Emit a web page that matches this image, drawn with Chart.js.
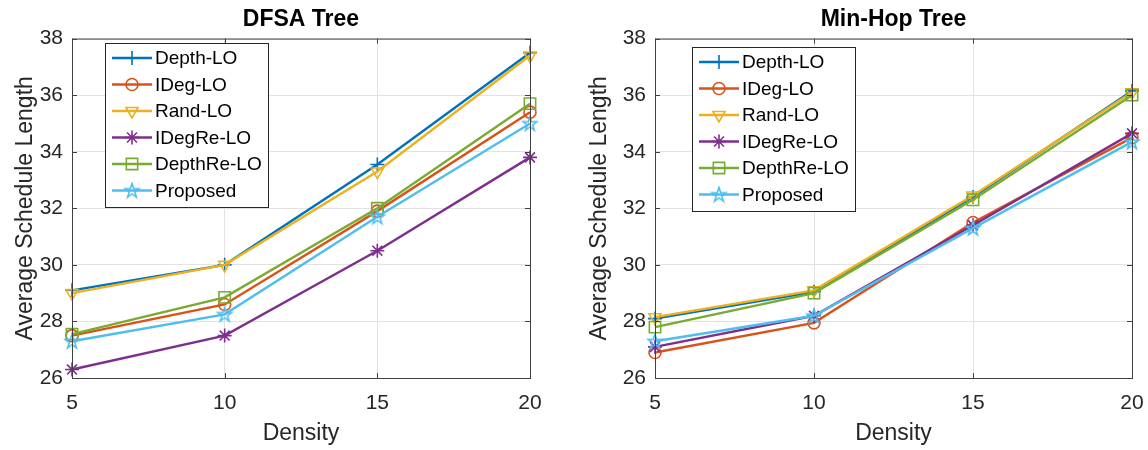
<!DOCTYPE html>
<html>
<head>
<meta charset="utf-8">
<script src="https://cdn.jsdelivr.net/npm/chart.js@4.4.0/dist/chart.umd.min.js"></script>
<style>
  body { margin: 0; background: #fff; }
  #wrap { display: flex; width: 1148px; height: 450px; }
  canvas { display: block; }
</style>
</head>
<body>
<div id="wrap">
  <canvas id="dfsaChart" width="574" height="450"></canvas>
  <canvas id="hopChart" width="574" height="450"></canvas>
</div>
<script>
// x categories
const density = ["5", "10", "15", "20"];
const yTicks = [26, 28, 30, 32, 34, 36, 38];
const seriesNames = ["Depth-LO", "IDeg-LO", "Rand-LO", "IDegRe-LO", "DepthRe-LO", "Proposed"];

// DFSA Tree
const dfsaDepth = [29.1, 30.0, 33.55, 37.5];
const dfsaIDeg = [27.5, 28.6, 31.9, 35.4];
const dfsaRand = [29.0, 30.0, 33.3, 37.4];
const dfsaIDegRe = [26.3, 27.5, 30.5, 33.8];
const dfsaDepthRe = [27.55, 28.85, 32.0, 35.7];
const dfsaProposed = [27.3, 28.25, 31.7, 35.0];

// Min-Hop Tree
const hopDepth = [28.1, 29.05, 32.4, 36.15];
const hopIDeg = [26.9, 27.95, 31.5, 34.5];
const hopRand = [28.15, 29.1, 32.45, 36.1];
const hopIDegRe = [27.1, 28.2, 31.4, 34.65];
const hopDepthRe = [27.8, 29.0, 32.3, 36.0];
const hopProposed = [27.3, 28.2, 31.3, 34.35];

const colors = ["#0072BD", "#D95319", "#EDB120", "#7E2F8E", "#77AC30", "#4DBEEE"];

Chart.defaults.font.family = "'Liberation Sans', Arial, sans-serif";
Chart.defaults.color = "#262626";

// matlab-like pentagram marker, no built-in one in chart.js
function makePentagram(color) {
  const c = document.createElement("canvas");
  c.width = 18;
  c.height = 18;
  const g = c.getContext("2d");
  const R = 7.5, r = R * 0.382;
  g.beginPath();
  for (let i = 0; i < 10; i++) {
    const rad = i % 2 === 0 ? R : r;
    const a = -Math.PI / 2 + (i * Math.PI) / 5;
    const px = 9 + rad * Math.cos(a);
    const py = 9.5 + rad * Math.sin(a);
    if (i === 0) g.moveTo(px, py);
    else g.lineTo(px, py);
  }
  g.closePath();
  g.strokeStyle = color;
  g.lineWidth = 1.6;
  g.stroke();
  return c;
}

const markers = [
  { style: "cross", radius: 7, rotation: 0 },
  { style: "circle", radius: 6, rotation: 0 },
  { style: "triangle", radius: 7, rotation: 180 },
  { style: "star", radius: 7, rotation: 0 },
  { style: "rect", radius: 8, rotation: 0 },
  { style: makePentagram(colors[5]), radius: 7, rotation: 0 },
];

const boxPlugin = {
  id: "boxPlugin",
  afterDatasetsDraw(chart, args, opts) {
    const ctx = chart.ctx;
    const area = chart.chartArea;
    const xs = chart.scales.x;
    const ys = chart.scales.y;
    ctx.save();
    // axes frame
    ctx.strokeStyle = "#404040";
    ctx.lineWidth = 1;
    ctx.strokeRect(area.left + 0.5, area.top + 0.5, area.right - area.left, area.bottom - area.top);
    // inward tick marks
    ctx.beginPath();
    density.forEach((d, i) => {
      const px = Math.round(xs.getPixelForTick(i)) + 0.5;
      ctx.moveTo(px, area.bottom);
      ctx.lineTo(px, area.bottom - 5);
      ctx.moveTo(px, area.top);
      ctx.lineTo(px, area.top + 5);
    });
    yTicks.forEach((v) => {
      const py = Math.round(ys.getPixelForValue(v)) + 0.5;
      ctx.moveTo(area.left, py);
      ctx.lineTo(area.left + 5, py);
      ctx.moveTo(area.right, py);
      ctx.lineTo(area.right - 5, py);
    });
    ctx.stroke();

    // legend box inside the plot
    const x0 = Math.round(area.left + opts.dx);
    const y0 = Math.round(area.top + opts.dy);
    const w = 163, h = 164, rowH = 26.5;
    ctx.fillStyle = "#fff";
    ctx.fillRect(x0, y0, w, h);
    ctx.strokeStyle = "#262626";
    ctx.strokeRect(x0 + 0.5, y0 + 0.5, w, h);
    chart.data.datasets.forEach((ds, i) => {
      const y = y0 + 15 + i * rowH;
      ctx.strokeStyle = ds.borderColor;
      ctx.lineWidth = 2.4;
      ctx.beginPath();
      ctx.moveTo(x0 + 7, y);
      ctx.lineTo(x0 + 47, y);
      ctx.stroke();
      ctx.fillStyle = "rgba(0,0,0,0)";
      ctx.lineWidth = 1.6;
      Chart.helpers.drawPoint(ctx, {
        pointStyle: ds.pointStyle,
        radius: ds.pointRadius,
        rotation: ds.pointRotation,
        borderWidth: 1.6,
      }, x0 + 27, y);
      ctx.fillStyle = "#000";
      ctx.font = "19px 'Liberation Sans', Arial, sans-serif";
      ctx.textBaseline = "middle";
      ctx.textAlign = "left";
      ctx.fillText(ds.label, x0 + 50, y + 1);
    });
    ctx.restore();
  },
};

function makeChart(canvasId, title, values, yWidth, padRight, legendDx, legendDy) {
  const ctx = document.getElementById(canvasId);
  return new Chart(ctx, {
    type: "line",
    data: {
      labels: density,
      datasets: values.map((vals, i) => ({
        label: seriesNames[i],
        data: vals,
        borderColor: colors[i],
        backgroundColor: "rgba(0,0,0,0)",
        borderWidth: 2.4,
        pointStyle: markers[i].style,
        pointRadius: markers[i].radius,
        pointRotation: markers[i].rotation,
        pointBorderWidth: 1.6,
        pointBackgroundColor: "rgba(0,0,0,0)",
        pointBorderColor: colors[i],
        tension: 0,
        order: 6 - i,
      })),
    },
    options: {
      responsive: false,
      animation: false,
      devicePixelRatio: 1,
      layout: { padding: { left: 0, right: padRight, top: 0, bottom: 0 } },
      plugins: {
        legend: { display: false },
        tooltip: { enabled: false },
        title: {
          display: true,
          text: title,
          fullSize: false,
          color: "#000",
          font: { size: 23, weight: "bold" },
          padding: { top: 6, bottom: 5 },
        },
        boxPlugin: { dx: legendDx, dy: legendDy },
      },
      scales: {
        x: {
          offset: false,
          grid: { color: "#e3e3e3", drawTicks: false },
          border: { display: false },
          ticks: { font: { size: 21 }, padding: 13, maxRotation: 0 },
          title: {
            display: true,
            text: "Density",
            font: { size: 23 },
            padding: { top: 0, bottom: 3 },
          },
          afterFit: (scale) => {
            scale.height = 72;
            scale.paddingLeft = 0;
            scale.paddingRight = 0;
          },
        },
        y: {
          min: 26,
          max: 38,
          grid: { color: "#e3e3e3", drawTicks: false },
          border: { display: false },
          ticks: { stepSize: 2, font: { size: 21 }, padding: 9 },
          title: {
            display: true,
            text: "Average Schedule Length",
            font: { size: 23 },
            padding: { top: 12, bottom: 0 },
          },
          afterFit: (scale) => {
            scale.width = yWidth;
            scale.paddingTop = 0;
            scale.paddingBottom = 0;
          },
        },
      },
    },
    plugins: [boxPlugin],
  });
}

makeChart("dfsaChart", "DFSA Tree",
  [dfsaDepth, dfsaIDeg, dfsaRand, dfsaIDegRe, dfsaDepthRe, dfsaProposed],
  72, 44, 33, 4);
makeChart("hopChart", "Min-Hop Tree",
  [hopDepth, hopIDeg, hopRand, hopIDegRe, hopDepthRe, hopProposed],
  81, 16, 37, 8);
</script>
</body>
</html>
